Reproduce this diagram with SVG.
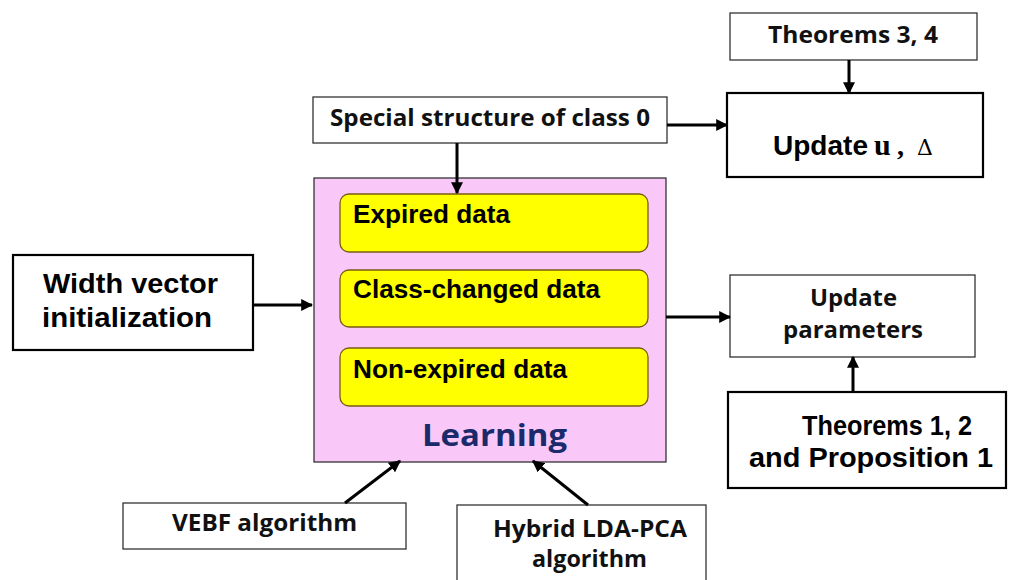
<svg xmlns="http://www.w3.org/2000/svg" width="1016" height="580" viewBox="0 0 1016 580">
<style>
.thin{fill:#fff;stroke:#333;stroke-width:1.3}
.thick{fill:#fff;stroke:#000;stroke-width:2.2}
.cal{font-family:"Open Sans",Lato,"Liberation Sans",sans-serif;font-weight:bold;fill:#111}
.ar{font-family:"Liberation Sans",Arial,sans-serif;font-weight:bold;fill:#000}
.yel{fill:#FFFF00;stroke:#7a5a10;stroke-width:1.3}
.conn{stroke:#000;stroke-width:3;fill:none;marker-end:url(#ah)}
</style>
<defs>
<marker id="ah" viewBox="0 0 10 10" refX="9" refY="5" markerWidth="4" markerHeight="4" orient="auto" markerUnits="strokeWidth">
<path d="M0,0 L10,5 L0,10 z" fill="#000"/>
</marker>
</defs>
<rect width="1016" height="580" fill="#fff"/>
<g id="theorems34">
<rect class="thin" x="730" y="13" width="247" height="47"/>
<text class="cal" x="768" y="43" font-size="24" textLength="170" lengthAdjust="spacingAndGlyphs">Theorems 3, 4</text>
</g>
<g id="updateU">
<rect class="thick" x="727" y="93" width="256" height="84"/>
<text class="ar" x="773" y="155" font-size="28" textLength="95" lengthAdjust="spacingAndGlyphs">Update</text>
<text x="874" y="155" font-family="'Liberation Serif',serif" font-weight="bold" font-size="30">u</text>
<text x="897" y="155" font-family="'Liberation Serif',serif" font-weight="bold" font-size="28">,</text>
<text x="917" y="155" font-family="'DejaVu Serif','Liberation Serif',serif" font-size="22">Δ</text>
</g>
<g id="special">
<rect class="thin" x="313" y="97" width="354" height="46"/>
<text class="cal" x="330" y="126" font-size="24" textLength="320" lengthAdjust="spacingAndGlyphs">Special structure of class 0</text>
</g>
<g id="learning">
<rect x="314" y="178" width="352" height="284" fill="#FAC8F8" stroke="#333" stroke-width="1.3"/>
<rect class="yel" x="340" y="194" width="308" height="58" rx="9"/>
<text class="ar" x="353" y="223" font-size="25" textLength="157" lengthAdjust="spacingAndGlyphs">Expired data</text>
<rect class="yel" x="340" y="270" width="308" height="57" rx="9"/>
<text class="ar" x="353" y="298" font-size="25" textLength="247" lengthAdjust="spacingAndGlyphs">Class-changed data</text>
<rect class="yel" x="340" y="348" width="308" height="58" rx="9"/>
<text class="ar" x="353" y="378" font-size="25" textLength="214" lengthAdjust="spacingAndGlyphs">Non-expired data</text>
<text x="422" y="446" font-family="'Open Sans',Lato,'Liberation Sans',sans-serif" font-weight="bold" font-size="30" fill="#1B2A6B" textLength="145" lengthAdjust="spacingAndGlyphs">Learning</text>
</g>
<g id="width">
<rect class="thick" x="13" y="255" width="240" height="95"/>
<text class="ar" x="43" y="293" font-size="28" textLength="175" lengthAdjust="spacingAndGlyphs">Width vector</text>
<text class="ar" x="42" y="327" font-size="28" textLength="170" lengthAdjust="spacingAndGlyphs">initialization</text>
</g>
<g id="updateParams">
<rect class="thin" x="730" y="275" width="245" height="82"/>
<text class="cal" x="810" y="306" font-size="24" textLength="87" lengthAdjust="spacingAndGlyphs">Update</text>
<text class="cal" x="783" y="338" font-size="24" textLength="140" lengthAdjust="spacingAndGlyphs">parameters</text>
</g>
<g id="theorems12">
<rect class="thick" x="728" y="392" width="278" height="96"/>
<text class="ar" x="802" y="435" font-size="27" textLength="170" lengthAdjust="spacingAndGlyphs">Theorems 1, 2</text>
<text class="ar" x="749" y="467" font-size="27" textLength="244" lengthAdjust="spacingAndGlyphs">and Proposition 1</text>
</g>
<g id="vebf">
<rect class="thin" x="123" y="503" width="283" height="46"/>
<text class="cal" x="172" y="531" font-size="24" textLength="185" lengthAdjust="spacingAndGlyphs">VEBF algorithm</text>
</g>
<g id="hybrid">
<rect class="thin" x="457" y="505" width="249" height="80"/>
<text class="cal" x="493" y="537" font-size="24" textLength="194" lengthAdjust="spacingAndGlyphs">Hybrid LDA-PCA</text>
<text class="cal" x="532" y="567" font-size="24" textLength="115" lengthAdjust="spacingAndGlyphs">algorithm</text>
</g>
<g id="connectors">
<line class="conn" x1="849" y1="60" x2="849" y2="93"/>
<line class="conn" x1="667" y1="125" x2="727" y2="125"/>
<line class="conn" x1="457" y1="143" x2="457" y2="193"/>
<line class="conn" x1="253" y1="305" x2="312" y2="305"/>
<line class="conn" x1="666" y1="317" x2="730" y2="317"/>
<line class="conn" x1="853" y1="392" x2="853" y2="357"/>
<line class="conn" x1="345" y1="503" x2="400" y2="461"/>
<line class="conn" x1="588" y1="505" x2="533" y2="461"/>
</g>
</svg>
